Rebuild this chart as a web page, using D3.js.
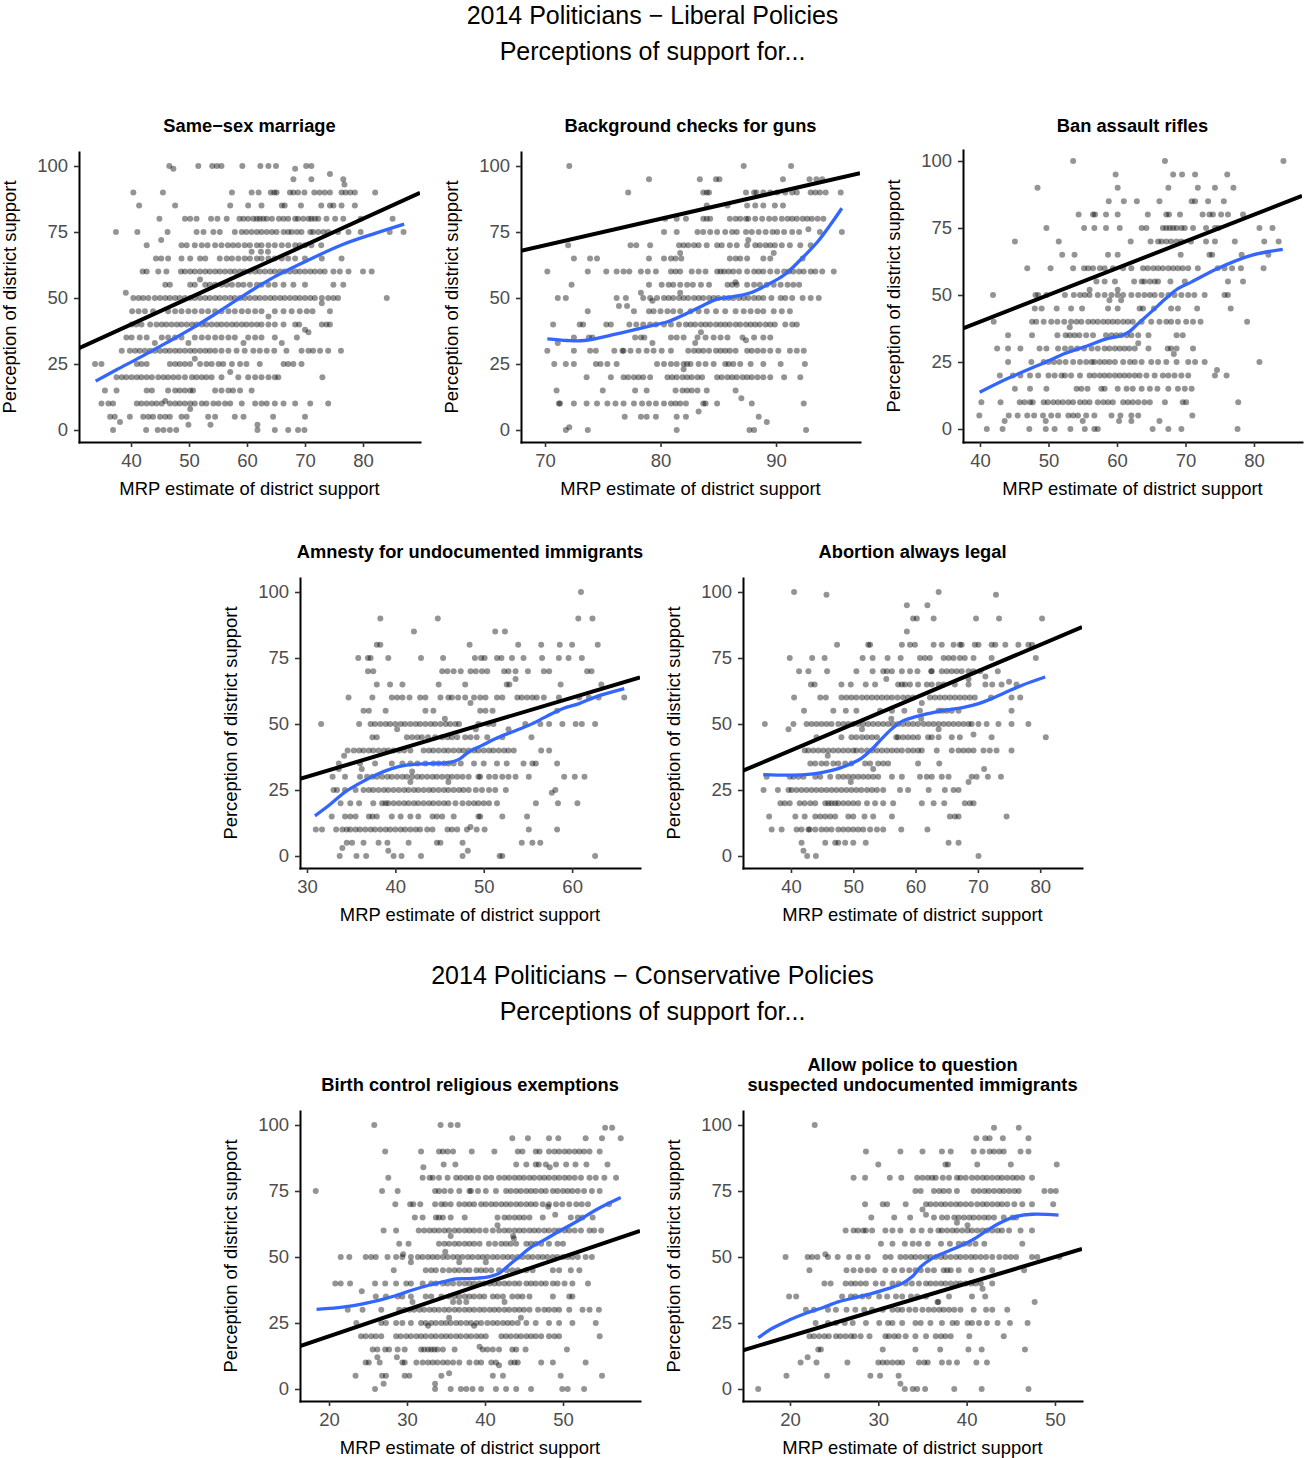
<!DOCTYPE html>
<html><head><meta charset="utf-8">
<script src="https://cdn.jsdelivr.net/npm/d3@7"></script>
<style>
body{margin:0;background:#fff}
svg{display:block}
text{font-family:"Liberation Sans",Arial,Helvetica,sans-serif}
</style>
</head><body>
<svg id="chart" width="1305" height="1458"></svg>
<script>
// ---------------- DATA ----------------
// Each points array: [perceived support level, [MRP estimates of districts at that level]]
const yTicks = [0, 25, 50, 75, 100];

const ssmXTicks = [40, 50, 60, 70, 80];
const ssmPoints = [
[100,[46.6,54.0,54.8,55.6,51.6,59.2,62.3,63.7,65.0,70.2,71.1]],
[99,[47.3,68.3]],[97,[74.3]],[95,[68.0,71.1,76.6]],[93,[76.8]],
[90,[40.4,45.5,57.4,60.8,62.0,64.1,64.7,65.1,67.4,68.0,68.8,69.9,71.6,72.5,73.4,74.3,76.3,77.0,77.8,78.6,82.1]],
[85,[41.4,47.6,57.1,60.2,62.5,66.0,66.5,69.3,72.8,74.3,74.9,76.3,78.6]],
[80,[44.9,49.3,50.2,51.3,53.8,54.9,56.5,58.7,59.4,60.2,61.1,61.7,62.2,62.8,63.4,64.3,65.5,66.3,67.1,68.3,68.8,69.7,70.6,71.1,71.7,72.3,73.7,75.2,76.6,79.6,85.1]],
[75,[37.4,41.1,46.3,51.3,52.5,54.2,55.3,57.9,59.1,59.9,60.8,61.7,62.5,63.4,64.3,65.1,66.3,67.1,67.7,68.6,69.4,70.9,71.4,72.3,73.2,74.0,75.7,77.5,79.6,84.6,87.0]],
[72,[45.2]],
[70,[42.7,48.7,49.6,51.0,52.2,53.2,54.5,55.6,56.7,57.6,58.5,59.6,60.5,61.7,62.5,63.7,64.8,66.0,67.1,68.3,69.1,70.0,71.1,72.8]],
[67.5,[60.8,62.4,63.6]],
[65,[44.3,45.2,46.4,48.7,50.2,51.9,52.8,55.3,56.5,57.4,58.5,59.6,60.5,61.7,62.5,63.7,64.8,66.0,67.1,68.3,70.0,72.9,76.3]],
[60,[42.0,42.7,44.7,46.1,48.6,49.3,50.2,51.0,51.9,52.8,53.6,54.5,55.3,56.2,57.1,57.9,58.8,59.6,60.5,61.4,62.2,63.1,64.0,64.8,65.7,66.5,67.4,68.3,69.1,70.0,70.9,71.7,72.6,73.4,74.9,76.0,77.5,80.0,81.5]],
[57,[51.9]],
[55,[45.9,46.7,50.2,51.0,52.8,53.6,54.5,55.6,56.5,57.4,58.5,59.4,60.5,61.7,62.5,63.7,64.8,66.3,68.0,70.0,74.9,76.6]],
[52,[39.1]],
[50,[40.4,41.3,42.1,43.0,44.1,45.0,45.9,46.7,47.6,48.4,49.3,50.2,51.0,51.9,52.8,53.6,54.5,55.3,56.2,57.1,57.9,58.8,59.6,60.5,61.4,62.2,63.1,64.0,64.8,65.7,66.5,67.4,68.3,69.1,70.0,70.9,71.7,72.9,74.0,74.9,75.7,84.1]],
[48,[72.9]],
[45,[40.2,41.3,42.4,43.8,46.4,47.6,48.7,49.9,51.0,52.2,53.3,54.5,55.6,56.8,57.9,59.1,60.2,61.4,62.5,64.8,66.3,67.7,69.1,70.3,71.3,74.3]],
[43,[63.7]],
[40,[40.1,40.9,41.8,43.3,44.4,45.3,46.1,47.0,47.9,48.7,49.6,50.5,51.3,52.2,53.0,53.9,54.8,55.6,56.5,57.4,58.2,59.1,59.9,60.8,61.7,62.5,63.7,64.8,66.3,68.3,69.0,72.9,73.7,74.3]],
[38,[70.0]],[37,[70.6]],
[35,[39.2,40.1,41.5,42.7,45.3,46.4,47.6,48.7,51.0,52.2,53.3,54.5,55.6,56.8,57.9,60.2,61.4,62.5,64.8,68.6]],
[33,[44.1,49.9,59.4,66.0]],
[30,[38.4,39.8,40.7,41.5,42.4,43.3,44.1,45.0,45.9,46.7,47.6,48.4,49.3,50.2,51.0,51.9,52.8,53.6,54.5,55.6,56.8,58.2,59.6,61.1,62.2,63.4,64.7,66.8,69.4,70.6,71.4,72.6,74.0,76.2]],
[27,[51.0]],
[25,[33.8,34.9,41.0,41.8,42.7,46.7,47.6,48.4,49.3,50.2,51.9,53.0,53.9,55.1,55.9,57.4,58.8,59.9,62.2,66.3,67.1,68.0,69.4]],
[22,[57.1]],
[20,[37.5,38.4,39.2,40.1,41.0,41.8,42.7,43.6,44.7,45.6,46.4,47.3,48.2,49.3,50.5,51.3,52.2,53.0,53.9,55.6,58.5,60.2,61.4,62.5,63.7,64.8,65.4,73.0]],
[15,[35.5,37.5,42.7,43.6,46.4,47.6,48.4,49.3,50.2,50.7,54.5,55.6,56.8,57.6,58.8,60.8]],
[11,[45.9]],
[10,[34.9,36.1,36.9,41.0,41.8,42.7,43.6,44.4,45.3,46.7,47.6,48.4,49.3,50.2,51.0,52.2,53.0,54.2,55.1,56.2,57.1,59.1,61.4,62.5,63.4,64.8,66.3,68.3,70.9,74.0]],
[8,[50.2]],
[5,[36.4,37.2,39.8,42.1,43.0,43.8,45.0,45.9,46.7,48.7,49.6,53.3,54.5,57.9,59.4,64.5,70.0]],
[3,[38.1]],[2,[49.9,53.7,61.8]],
[0,[36.9,42.6,44.6,45.6,46.7,47.8,61.8,64.8,67.1,68.8,69.9]]
];
const ssmSmooth = [[33.9,18.5],[37.5,22.8],[41.8,27.8],[46.0,32.9],[50.5,38.5],[55.0,44.6],[59.1,50.5],[64.8,58.1],[70.6,64.4],[76.3,70.1],[82.1,74.5],[87.1,78.0]];

const gunXTicks = [70, 80, 90];
const gunPoints = [
[100,[72.1,87.2,91.3]],
[95,[79.0,83.4,84.8,85.1,90.6,92.9,93.5,94.0]],
[90,[77.2,83.7,84.0,84.2,87.4,88.1,88.3,88.9,89.5,90.1,90.8,91.4,91.8,93.0,93.4,93.8,94.3,95.6]],
[85,[84.0,85.8,87.5,88.2,88.9,89.9,90.6]],
[80,[80.4,81.4,82.2,83.7,84.0,84.3,86.0,86.5,86.9,87.4,87.6,88.2,88.8,89.4,89.9,90.5,91.0,91.4,91.8,92.3,92.7,93.1,93.6,94.1]],
[76,[92.8]],
[75,[80.3,81.4,83.2,83.7,84.3,84.9,85.6,86.2,86.6,87.4,87.9,88.5,89.1,89.7,90.1,90.7,91.4,92.0,93.8,95.7]],
[72,[87.6]],
[70,[72.0,77.4,77.9,79.1,81.6,82.0,82.4,82.9,83.3,84.0,84.9,85.3,86.0,86.6,87.5,88.2,88.6,89.1,89.5,89.9,90.5,91.2,92.1,93.0]],
[67,[81.7,89.8]],
[65,[72.5,73.9,74.5,79.0,80.3,80.9,81.3,81.8,86.0,86.5,86.9,87.5,88.9,89.5,92.3]],
[60,[70.2,73.7,75.3,76.2,76.8,77.3,78.3,78.9,79.6,80.9,81.3,81.7,82.7,83.3,83.9,84.9,85.2,85.5,85.9,86.3,86.8,87.5,88.1,88.5,88.9,89.5,90.1,90.7,91.1,91.5,92.0,92.4,93.0,93.4,94.0,95.0]],
[56,[86.5]],
[55,[72.3,79.0,80.1,80.7,81.1,81.7,82.3,82.8,83.5,84.2,85.8,86.2,86.6,87.5,88.1,88.6,89.2,89.8,90.4,91.0,91.5,92.0]],
[52,[78.3,81.7]],
[50,[71.1,71.8,76.2,77.0,78.5,79.1,79.7,80.3,80.7,81.1,81.6,82.0,82.4,82.9,83.3,83.7,84.2,84.6,85.0,85.5,85.9,86.3,86.8,87.2,87.6,88.1,88.5,88.9,89.6,90.4,90.8,91.4,92.3,93.0,93.7]],
[49,[79.3]],[47,[76.4,77.1]],
[45,[73.7,77.7,79.0,79.4,80.0,80.6,81.1,81.7,82.6,83.3,84.0,84.8,85.6,86.5,87.2,87.8,88.4,88.9,89.8,90.5,91.2]],
[40,[70.7,73.0,73.3,75.3,75.7,77.3,77.9,78.5,79.1,79.6,80.3,80.9,81.6,82.2,82.6,83.0,83.5,83.9,84.3,84.8,85.2,85.6,86.0,86.5,86.9,87.4,87.8,88.2,88.6,89.1,89.5,89.9,90.8,91.4,91.8]],
[37,[83.5]],
[35,[72.5,73.8,74.1,77.8,78.3,78.6,80.9,81.4,82.0,83.2,83.9,84.6,85.2,85.8,87.1,88.1,88.9,89.5]],
[34,[87.4]],[33,[71.1,79.3,83.0]],
[30,[70.2,72.5,73.9,74.4,76.0,76.7,76.8,77.4,78.1,78.8,79.4,80.1,80.9,82.4,82.9,83.3,83.7,84.2,84.8,85.2,85.6,86.0,86.5,87.5,87.9,88.4,88.9,89.5,90.2,91.2,91.8,92.4]],
[25,[70.8,71.8,72.5,74.4,74.8,75.4,76.2,79.7,80.3,80.9,81.4,82.0,82.3,82.6,83.3,83.9,84.6,85.6,85.9,86.3,86.9,87.8,88.9,90.4,92.5]],
[23,[82.0]],
[20,[73.6,75.7,76.8,77.2,77.7,78.1,78.5,79.1,80.6,81.0,81.4,81.9,82.3,82.7,83.2,83.6,84.9,85.3,85.8,86.2,86.6,87.1,87.5,87.9,88.4,88.9,89.5,90.7,92.1]],
[15,[71.0,75.0,77.8,78.8,81.3,81.9,82.3,82.7,83.2,84.0,86.5]],
[12,[87.0]],
[10,[71.2,71.3,72.5,73.6,74.5,75.4,76.1,76.8,77.7,78.4,79.0,79.6,80.3,80.9,81.3,81.7,82.2,83.7,83.9,84.9,87.9,92.4]],
[7,[83.3]],
[5,[76.9,78.3,78.8,79.6,81.4,82.2,88.5]],
[3,[89.2]],[1,[72.1]],
[0,[71.8,73.7,81.4,87.7,88.1,92.6]]
];
const gunSmooth = [[70.2,34.5],[71.9,33.9],[73.4,33.9],[76.2,36.4],[79.1,39.4],[80.6,41.0],[82.0,43.6],[83.5,46.8],[84.9,49.6],[86.3,50.5],[87.8,52.0],[89.2,54.9],[90.7,58.7],[92.1,64.4],[93.6,71.3],[94.7,77.7],[95.7,84.0]];

const rifXTicks = [40, 50, 60, 70, 80];
const rifPoints = [
[100,[53.6,67.0,84.3]],
[95,[59.8,68.2,69.5,71.4,76.1]],
[90,[48.4,60.1,67.5,71.8,74.3,77.0]],
[85,[58.8,61.0,62.9,66.2,70.9,71.4,73.3,75.6]],
[80,[54.4,56.5,56.8,58.4,60.1,64.5,67.2,67.6,69.2,72.5,73.5,74.0,75.2,76.2,78.4]],
[75,[49.7,55.2,56.7,58.4,60.4,63.6,64.3,66.7,67.2,67.7,68.2,68.7,69.4,69.9,71.1,73.0,74.3,74.8,80.8,82.7]],
[70,[45.1,51.5,62.0,64.9,66.0,66.5,67.2,67.9,68.7,69.4,70.8,73.0,74.3,77.2,81.5,83.6]],
[65,[52.0,53.8,58.7,60.1,69.3,73.5,73.9,78.2,82.1]],
[60,[46.9,50.3,53.6,55.2,55.8,56.5,57.5,58.2,59.4,60.9,62.1,63.8,64.5,65.3,66.0,66.7,67.5,68.2,68.9,69.6,70.4,71.8,74.7,75.7,76.8,78.1,81.4]],
[55,[57.0,58.2,59.7,62.5,63.6,64.0,64.8,65.5,66.0,67.8,69.9,76.2,78.4]],
[52,[56.0,60.1]],
[50,[41.9,48.1,48.5,49.7,52.4,53.7,54.6,55.3,56.0,57.2,58.2,59.2,60.1,60.9,62.1,63.1,64.0,64.8,65.5,66.5,67.5,68.4,69.4,70.4,71.3,72.8,75.7,76.2]],
[48,[58.9,60.6]],
[45,[48.0,49.0,51.2,53.3,54.9,58.7,60.1,63.3,63.8,65.4,67.9,68.9,71.7,76.6]],
[40,[42.0,47.6,48.2,49.3,50.4,51.3,52.3,53.3,54.1,54.8,55.8,56.5,57.2,58.0,58.7,59.4,60.1,60.9,61.6,62.3,63.6,65.0,66.2,67.2,67.9,68.9,70.1,71.1,72.2,79.0]],
[38,[53.1]],
[35,[44.1,47.6,51.3,52.5,53.1,53.8,54.5,55.5,56.5,58.4,59.2,59.9,60.6,61.4,62.1,63.1,64.6,68.7,69.6]],
[32,[63.1]],
[30,[42.5,44.1,45.9,48.7,49.7,51.4,52.4,53.3,54.2,55.2,56.3,57.2,58.2,58.9,59.7,60.4,61.1,61.8,62.6,64.6,67.4,67.9,68.7,71.1]],
[28,[68.3]],
[25,[44.1,47.5,49.3,50.0,50.8,51.6,52.5,53.6,54.6,55.5,56.3,56.7,57.5,58.2,58.9,59.7,60.9,61.9,62.6,63.6,65.0,66.0,67.2,68.7,70.4,71.4,72.8,80.8]],
[22,[74.6]],
[20,[42.9,44.8,45.9,47.3,48.5,50.0,50.9,51.9,52.4,53.3,54.6,56.0,56.7,57.5,58.2,58.9,59.7,60.4,61.1,61.8,62.6,63.3,64.3,65.5,66.7,67.5,68.4,69.4,70.4,74.3,76.0]],
[15,[45.1,47.3,49.7,54.1,54.8,55.7,57.7,58.2,60.1,61.4,62.3,63.6,64.8,65.9,67.5,68.9,69.9,70.9]],
[10,[40.2,43.0,45.8,46.5,47.3,47.7,49.3,49.9,50.7,51.4,52.1,52.9,53.6,54.6,55.3,56.0,57.2,58.0,58.7,59.4,60.9,61.6,62.3,63.1,64.0,64.8,67.0,69.6,70.1,77.7]],
[5,[39.9,44.2,45.5,46.9,47.9,49.2,50.4,51.4,52.9,53.6,54.3,55.5,56.7,59.2,60.5,62.1,63.1,71.0]],
[3,[43.6,49.6,55.0,60.3,62.1,66.2]],
[0,[41.0,43.3,47.2,49.6,50.9,53.2,55.3,56.7,57.2,65.2,67.5,69.4,77.6]]
];
const rifSmooth = [[39.95,13.7],[44.1,18.9],[49.7,25.1],[52.4,28.2],[55.3,30.7],[58.7,33.8],[60.6,34.8],[61.8,36.3],[63.1,39.4],[65.0,43.7],[67.0,48.4],[68.9,52.4],[70.9,54.9],[74.7,59.9],[79.6,64.8],[84.2,67.0]];

const amnXTicks = [30, 40, 50, 60];
const amnPoints = [
[100,[61.0]],
[90,[38.3,44.8,60.7,62.3]],
[85,[42.1,51.3,52.4]],
[80,[37.9,38.3,48.4,53.9,56.5,58.6,60.0,62.9]],
[75,[35.8,36.9,37.2,39.2,42.9,45.4,49.0,49.7,50.1,51.5,52.0,53.2,54.5,56.6,58.5,59.6,61.1]],
[70,[36.9,37.5,45.3,45.9,46.6,47.4,48.5,49.1,49.8,50.4,52.3,52.8,53.6,55.0,56.8,57.4,61.7,62.2]],
[67,[53.6]],
[65,[37.9,39.4,40.8,44.9,47.9,52.6,52.9,58.7,63.3]],
[60,[34.7,37.4,39.6,40.2,40.8,41.6,42.8,43.4,45.1,46.0,46.4,47.1,47.9,48.9,49.6,50.2,51.5,52.1,53.8,54.3,54.9,55.5,56.0,56.8,58.5,60.8,61.9,63.0,65.9]],
[58,[48.5]],
[55,[36.4,37.0,38.9,43.4,44.3,49.6,50.2,51.0,58.3]],
[52,[45.6]],
[50,[31.6,35.9,37.2,37.7,38.3,38.9,39.4,40.0,40.6,41.1,41.7,42.3,42.8,43.4,44.0,44.5,45.1,45.7,46.2,46.8,47.2,49.4,50.5,51.1,54.7,56.4,57.4,58.9,60.4,61.1,62.6]],
[48,[40.2,49.1,52.8]],
[45,[37.4,37.9,41.3,41.9,42.5,43.0,43.7,44.5,45.3,45.9,46.4,47.0,47.9,48.5,49.2,50.4,52.1,55.4]],
[40,[34.6,35.3,35.9,36.4,37.0,37.5,38.1,38.7,39.2,39.8,40.4,41.0,41.7,43.2,43.8,44.3,44.9,45.5,46.0,46.6,47.2,47.7,48.3,48.9,49.4,50.0,50.6,51.1,51.7,52.3,52.8,53.4,56.5,57.4]],
[38,[34.2]],
[35,[33.6,36.0,37.7,39.6,40.8,41.7,42.5,43.4,44.3,44.9,45.5,46.0,46.6,47.4,48.9,50.0,51.5,52.6,54.5,55.5,55.9,58.3]],
[33,[33.6,36.2]],[32,[41.9]],
[30,[32.9,34.3,36.0,36.8,37.4,37.9,38.5,39.1,39.6,40.2,40.8,41.3,41.9,42.5,43.0,43.6,44.2,44.7,45.3,45.9,46.4,47.0,47.6,48.3,49.4,49.6,50.6,51.3,52.1,52.8,53.6,55.1,59.1,60.3,61.4]],
[28,[41.7,46.0]],
[25,[33.0,33.4,34.3,35.5,36.4,37.0,37.5,38.1,38.7,39.2,39.8,40.4,41.0,41.5,42.1,42.6,43.2,43.8,44.3,44.9,45.5,46.0,46.6,47.2,47.7,48.3,49.1,49.8,50.6,51.3,52.5,58.1]],
[24,[57.7]],
[20,[33.8,34.9,35.9,37.5,38.5,38.9,39.2,39.8,40.4,41.0,41.5,42.1,42.6,43.2,43.8,44.3,44.9,45.5,46.0,46.8,47.6,48.3,48.9,49.4,50.0,50.6,51.5,55.9,58.4,60.6]],
[15,[32.8,34.3,34.9,35.5,37.0,37.4,37.9,39.6,40.6,41.7,42.6,44.2,44.7,45.3,46.6,49.4,49.6,52.1,54.9]],
[11,[48.5]],
[10,[31.0,31.7,33.3,34.0,34.5,34.9,35.5,36.0,36.6,37.2,37.7,38.3,38.9,39.4,40.0,40.6,41.1,41.7,42.3,42.8,43.6,44.2,45.9,46.4,47.0,48.1,49.2,50.1,55.1,58.3]],
[5,[34.5,35.1,36.4,38.1,39.1,41.5,44.7,45.1,47.6,54.3,55.5,56.4]],
[3,[34.0]],[2,[39.2,48.2]],
[0,[33.7,35.6,36.7,39.8,40.7,42.9,47.6,51.8,52.1,62.6]]
];
const amnSmooth = [[30.9,15.2],[32.5,19.2],[34.3,24.2],[36.2,28.0],[37.7,30.6],[39.6,33.1],[41.1,34.3],[43.8,35.0],[46.0,35.4],[47.2,36.6],[48.3,39.4],[49.8,41.9],[51.3,44.4],[53.2,47.0],[55.1,49.5],[57.0,52.7],[58.9,55.8],[60.8,57.7],[62.6,60.2],[65.9,63.4]];

const aboXTicks = [40, 50, 60, 70, 80];
const aboPoints = [
[100,[40.5,63.7]],[99,[45.7,72.9]],[95,[58.6,61.9]],
[90,[59.6,60.2,62.9,69.7,73.4,80.3]],
[85,[58.6]],
[80,[47.4,52.4,52.7,57.8,59.1,59.9,62.9,64.2,66.1,67.1,67.4,69.5,70.1,72.2,72.8,74.4,76.5,78.1,78.7]],
[75,[39.8,43.4,45.4,51.5,53.1,55.5,57.6,60.7,61.5,62.3,64.5,65.3,66.1,67.1,67.9,69.3,72.2,79.3]],
[70,[41.3,42.8,45.8,50.5,53.1,54.8,55.4,56.2,57.8,59.1,60.3,62.5,62.6,64.2,65.0,65.8,66.6,67.4,68.5,69.3,70.4,73.2]],
[68,[71.2]],[67,[55.3,68.5]],[66,[75.0]],
[65,[43.2,43.8,48.1,49.6,52.0,53.5,57.2,57.8,58.3,59.1,60.4,61.8,62.6,63.7,64.5,66.3,68.5,71.2,72.3,73.8,76.2]],
[60,[40.5,44.7,45.6,48.1,48.9,49.7,50.5,51.4,52.2,53.0,53.8,54.6,55.4,56.2,57.1,58.0,58.8,59.6,62.3,63.1,63.9,64.7,65.5,66.3,67.1,67.9,68.7,69.5,72.1,75.4,76.8]],
[58,[61.0]],
[55,[42.1,46.8,48.8,50.5,54.3,56.2,58.2,60.7,63.7,64.3,65.0,65.8,66.9,75.4]],
[52,[56.1,60.9]],
[50,[35.8,40.4,42.5,43.3,44.1,44.9,45.7,46.5,47.6,48.4,49.2,50.0,50.8,51.6,52.4,53.2,54.0,54.8,55.6,56.4,57.2,58.0,58.8,59.6,60.4,61.3,62.1,62.9,63.7,64.5,65.3,66.1,66.9,67.7,68.5,69.0,70.1,71.4,73.3,75.4,78.1]],
[48,[39.6,51.4,63.7]],[46,[69.3]],
[45,[44.1,48.1,49.7,50.5,51.4,52.2,53.0,53.8,56.9,57.2,58.0,58.8,59.6,60.4,62.0,62.6,63.7,65.8,67.1,72.2,80.9]],
[40,[42.2,42.8,43.6,44.4,45.2,46.0,46.8,47.6,48.4,49.2,50.0,50.5,51.3,52.2,53.0,53.8,54.6,55.4,56.2,57.0,57.8,58.8,59.6,60.4,61.0,63.4,65.8,66.9,67.7,68.5,69.3,70.9,71.9,73.0,75.4]],
[38,[45.9]],
[35,[43.1,43.9,44.9,45.7,46.8,47.6,48.7,49.7,51.9,52.7,54.0,54.8,55.6,60.4,63.8]],
[33,[53.2,71.0]],
[30,[36.1,39.8,40.4,41.2,42.0,43.9,44.7,46.3,47.6,48.4,49.2,50.0,50.8,51.6,52.4,53.2,54.0,56.2,57.8,60.7,61.8,62.6,64.2,65.3,69.0,69.8,71.6,73.7]],
[28,[49.6,68.5]],
[25,[35.6,37.9,39.6,40.1,40.9,41.7,42.5,43.3,44.1,44.9,45.7,46.5,47.3,48.1,48.9,49.7,50.5,51.3,52.2,53.0,53.8,54.8,57.5,58.8,62.1,64.7,66.1,66.9]],
[20,[38.3,39.0,39.8,41.4,42.2,43.1,43.9,45.5,46.0,46.5,47.1,47.6,48.4,49.2,50.0,50.8,52.2,53.5,54.8,56.4,61.0,62.9,64.6,67.9,68.7,69.3]],
[15,[36.5,40.7,42.2,43.9,44.7,45.5,46.3,47.1,49.2,50.0,51.8,53.2,56.2,65.5,66.3,66.9,74.6]],
[10,[36.9,38.5,40.9,41.7,42.8,43.0,43.9,44.9,45.7,46.5,47.6,48.4,49.2,50.0,50.8,51.6,52.7,53.8,54.8,57.7,61.9]],
[5,[41.7,45.5,47.1,47.6,48.7,50.0,52.0,65.3,66.9]],
[2,[42.0]],
[0,[42.6,44.0,70.1]]
];
const aboSmooth = [[35.55,30.8],[39.6,30.6],[42.25,30.8],[44.9,31.6],[47.6,33.1],[49.7,35.0],[51.35,37.1],[52.95,40.4],[54.56,44.4],[56.2,48.2],[57.8,51.0],[59.9,52.7],[63.7,54.8],[67.9,56.4],[70.1,57.7],[72.2,59.6],[74.4,61.9],[77.0,64.6],[80.8,67.8]];

const bcXTicks = [20, 30, 40, 50];
const bcPoints = [
[100,[25.8,34.3,35.6,36.5]],[99,[55.4,56.3]],
[95,[43.5,45.5,48.2,49.4,52.9,55.0,57.4]],
[90,[27.2,31.8,34.1,34.6,35.2,35.9,38.3,41.2,44.2,44.8,46.5,47.0,48.2,48.9,49.5,50.2,50.8,51.5,52.1,52.7,53.4,54.7]],
[85,[34.7,36.2,44.0,45.3,46.5,46.9,47.8,49.1,50.4,51.6,53.0,55.7]],
[84,[32.1,48.3]],
[80,[27.6,32.0,32.9,33.3,34.1,35.2,36.3,36.9,37.6,38.2,39.1,40.1,40.8,41.8,42.5,43.1,43.8,44.4,45.0,45.7,46.3,47.0,47.6,48.2,48.9,49.5,50.2,50.8,51.5,52.3,53.4,54.2,55.3,56.8]],
[75,[18.3,26.8,28.8,33.6,34.1,34.8,35.6,36.7,38.0,38.2,39.1,40.1,41.4,42.7,43.3,44.0,44.6,45.3,45.9,46.5,47.2,47.8,48.7,49.3,50.0,50.6,51.2,51.9,52.7,53.7,54.7]],
[70,[28.5,30.4,30.8,31.7,33.6,34.4,34.9,35.6,36.7,37.4,38.0,38.6,39.5,40.1,40.8,41.4,42.1,42.7,43.3,44.0,44.6,45.3,45.9,46.5,47.4,48.2,49.1,49.9,50.8,51.7,52.4,53.2,55.9]],
[69,[48.1]],[66,[49.0]],
[65,[31.0,32.0,33.7,34.1,34.6,35.6,37.4,41.6,42.5,43.1,43.8,44.4,45.0,45.7,47.4,51.0,51.9,52.5,53.8]],
[62,[41.6]],
[60,[27.0,28.6,31.5,32.2,32.9,33.5,34.1,34.8,35.4,36.1,36.7,37.4,38.0,38.6,39.3,40.1,41.0,41.8,42.5,43.1,43.8,44.4,45.0,45.7,46.3,46.9,47.6,48.2,48.9,49.5,50.2,50.8,51.5,52.3,53.4,54.0,54.9]],
[58,[35.6,43.6]],[57,[43.7]],
[55,[29.0,30.2,34.1,34.8,35.4,36.1,36.7,37.4,38.0,38.6,39.3,40.5,41.3,42.1,42.7,43.3,44.0,45.3,45.9,46.5,47.2,48.2,49.3,50.0]],
[52,[34.9]],[51,[29.5]],
[50,[21.5,22.6,24.7,25.4,26.0,27.5,28.6,29.4,30.5,31.4,32.0,32.7,33.3,33.9,34.6,35.2,35.9,36.5,37.1,37.8,38.4,39.1,39.7,40.3,41.0,41.6,42.3,42.9,43.5,44.2,44.8,45.5,46.1,46.8,47.4,48.0,48.7,49.3,50.0,50.6,51.2,51.9,52.9,53.7]],
[48,[30.5,36.7,40.1]],
[45,[28.3,32.4,33.1,33.7,34.6,35.4,36.1,36.7,37.4,38.0,38.9,39.5,40.1,40.8,41.8,42.8,43.5,44.2,45.3,46.1,48.7,49.5,51.0,52.1]],
[40,[20.8,21.5,22.7,25.9,27.2,28.6,29.9,30.5,32.0,33.1,33.7,34.6,35.2,35.9,36.7,37.4,38.0,38.6,39.3,39.9,40.6,41.2,41.8,42.5,43.1,43.8,44.4,45.3,45.9,46.5,47.2,47.8,48.7,49.3,50.2,51.2,53.2]],
[37,[24.2]],
[35,[26.0,27.3,28.8,29.4,30.5,32.4,33.1,34.4,35.4,36.1,36.7,37.4,38.0,38.6,39.3,39.9,41.0,41.6,42.3,43.5,44.2,44.8,45.7,48.7,50.8,51.2]],
[33,[30.7,35.9,36.7,37.6,42.5]],
[30,[22.4,24.3,26.7,29.0,29.7,30.3,30.9,31.6,32.2,32.9,33.5,34.1,34.8,35.4,36.1,36.7,37.4,38.0,38.6,39.3,39.9,40.6,41.2,41.8,42.5,43.1,43.8,44.4,45.0,45.7,46.8,47.6,48.2,48.9,49.5,50.8,52.5,53.4,54.6]],
[27,[35.4,44.6]],
[25,[23.5,26.7,27.3,28.6,29.4,30.5,31.8,32.4,33.1,33.7,34.4,35.0,35.6,36.3,36.9,37.6,38.2,38.9,39.5,40.3,41.0,41.6,42.3,42.9,43.5,44.2,45.3,46.5,48.2,49.5,51.2,54.2]],
[24,[32.7,38.6]],
[20,[24.1,24.7,25.4,26.0,26.7,28.6,29.2,29.9,30.5,31.2,31.8,32.4,33.1,33.7,34.4,35.0,35.6,36.3,36.9,37.6,38.2,38.9,39.5,40.1,42.1,42.7,43.3,44.0,44.6,45.3,45.9,46.5,47.2,48.2,48.9,49.5,54.7]],
[16,[39.3]],
[15,[25.6,26.2,27.2,27.7,28.8,29.7,31.8,32.2,32.7,33.1,33.5,33.9,34.6,36.1,39.7,40.3,41.0,41.8,43.5,44.0,45.2,50.5]],
[12,[26.2,28.7]],
[10,[24.7,25.1,26.5,29.4,29.7,31.2,32.0,32.7,33.3,33.9,34.6,35.2,35.9,36.7,38.0,38.9,39.5,40.8,41.4,43.3,43.8,44.2,47.2,48.7,52.9]],
[9,[41.8]],[6,[35.4]],
[5,[23.4,26.8,27.3,29.7,30.3,34.4,41.0,42.3,49.7,55.0]],
[2,[27.0,33.6]],
[0,[25.9,33.6,35.6,36.9,37.6,38.4,39.5,41.4,42.7,44.0,45.9,49.9,50.6,52.7]]
];
const bcSmooth = [[18.4,30.2],[22.2,31.2],[26.5,33.7],[28.6,35.4],[30.7,37.5],[32.9,39.4],[35.0,40.9],[36.3,41.7],[38.4,41.9],[40.6,42.6],[41.8,43.8],[43.1,47.0],[44.4,50.1],[45.7,53.3],[47.8,56.8],[50.0,60.6],[52.1,64.0],[54.2,67.8],[57.4,72.5]];

const polXTicks = [20, 30, 40, 50];
const polPoints = [
[100,[22.8]],[99,[43.1,45.9]],
[95,[41.1,42.1,42.6,44.1,47.0]],
[90,[28.6,32.5,35.0,37.2,38.2,40.8,41.8,42.6,43.1,43.7,44.2,46.1,47.0]],
[85,[30.0,37.6,37.9,41.2,45.0,50.2]],
[80,[27.2,28.5,31.3,32.6,34.4,35.0,35.6,36.1,36.5,37.3,38.0,38.9,39.3,39.9,40.6,41.2,41.8,42.3,42.9,43.5,44.0,44.6,45.2,45.7,46.3,47.4]],
[75,[34.2,34.8,36.3,36.9,37.4,38.0,38.9,40.8,41.4,42.0,42.5,43.1,43.7,44.2,44.8,45.4,45.9,48.8,49.5,50.1]],
[70,[28.5,30.5,31.0,33.1,35.4,35.9,36.5,37.1,37.6,38.2,38.8,39.3,39.9,40.5,41.2,41.8,42.3,42.9,43.5,44.0,44.6,45.4,46.3,47.4,49.8]],
[68,[35.0]],[66,[35.4]],
[65,[29.2,31.8,33.6,36.3,37.2,37.8,38.6,39.1,39.7,40.3,40.8,41.4,42.0,42.5,43.1,44.2,45.2,45.6]],
[63,[38.9]],[62,[40.1]],
[60,[26.3,27.2,27.7,28.3,28.6,29.3,30.8,31.6,32.5,33.9,34.9,35.9,36.8,37.2,37.8,38.4,38.9,39.5,40.1,40.6,41.2,41.8,42.3,42.9,43.5,44.0,44.8,46.1,47.4]],
[55,[30.3,31.6,33.0,33.9,34.6,35.6,37.1,38.1,39.1,39.7,40.3,41.0,42.0,46.3]],
[51,[24.0]],
[50,[19.5,22.0,22.5,23.1,24.3,25.4,26.7,27.7,28.8,30.8,31.4,32.5,33.1,33.7,34.2,34.8,35.4,35.9,36.5,37.1,37.6,38.2,38.8,39.3,39.9,40.5,41.0,41.6,42.2,42.9,43.7,44.4,45.0,45.6,47.4,48.0,50.5]],
[45,[22.2,26.4,27.2,28.0,28.8,29.5,30.8,31.8,32.7,33.5,34.2,34.8,35.6,36.3,37.4,37.8,38.2,39.1,40.5,41.8,42.9,46.5]],
[40,[23.9,24.6,26.3,26.9,27.4,28.0,28.6,29.7,30.5,31.6,32.3,33.1,33.8,34.6,35.4,35.9,36.5,37.1,37.6,38.2,38.8,39.3,39.9,40.5,41.0,41.6,42.9]],
[38,[41.8]],
[35,[19.9,20.7,25.9,26.9,27.4,28.2,28.9,30.1,31.0,32.0,32.7,33.7,34.4,35.4,38.0,40.6,42.1]],
[33,[36.7,36.8,47.7]],
[30,[21.8,22.7,24.3,25.2,26.4,27.4,28.4,29.3,30.5,31.6,32.2,32.7,33.5,34.2,35.0,35.7,36.3,36.9,37.4,38.0,38.6,39.3,40.8,42.2,42.9,44.6]],
[25,[22.9,24.3,25.2,26.2,27.1,28.6,30.1,31.1,31.6,32.7,34.2,34.8,35.9,37.2,38.4,38.9,40.1,40.6,41.4,42.3,43.5,44.9,46.9]],
[20,[22.2,22.7,23.3,23.9,24.4,25.2,25.7,26.3,26.9,27.3,28.0,29.0,30.8,31.2,31.8,32.3,33.1,34.2,35.4,36.5,37.1,37.6,38.2,40.3,44.2]],
[15,[23.2,23.5,30.5,34.2,37.0,40.2,41.7,46.6]],
[12,[22.0]],
[10,[21.2,23.0,26.5,30.0,30.5,31.0,31.6,32.2,32.7,34.6,35.2,35.6,37.2,38.0,38.9,41.1,42.3]],
[5,[19.6,24.2,29.1,30.2,32.3]],
[2,[32.5]],
[0,[16.4,33.0,33.9,34.4,35.3,38.6,41.7,47.0]]
];
const polSmooth = [[16.4,19.4],[18.0,23.0],[19.9,26.1],[21.8,28.7],[23.7,30.8],[25.55,33.1],[27.4,34.6],[29.3,36.2],[31.2,38.1],[32.7,40.0],[33.85,42.6],[34.8,46.3],[36.1,49.5],[37.6,51.8],[39.1,53.9],[40.6,56.4],[42.2,59.8],[43.7,62.8],[45.55,65.3],[47.4,66.2],[50.4,65.9]];

const panelTitles = [
  ["Same\u2212sex marriage"],
  ["Background checks for guns"],
  ["Ban assault rifles"],
  ["Amnesty for undocumented immigrants"],
  ["Abortion always legal"],
  ["Birth control religious exemptions"],
  ["Allow police to question", "suspected undocumented immigrants"]
];
const sectionTitles = [
  ["2014 Politicians \u2212 Liberal Policies", "Perceptions of support for..."],
  ["2014 Politicians \u2212 Conservative Policies", "Perceptions of support for..."]
];
const xAxisTitle = "MRP estimate of district support";
const yAxisTitle = "Perception of district support";

// ---------------- LAYOUT ----------------
const FONT = '"Liberation Sans", Arial, Helvetica, sans-serif';
const panels = [
  {pts: ssmPoints, smooth: ssmSmooth, xt: ssmXTicks, title: panelTitles[0], x0: 79,  x1: 420,  top: 152,  bottom: 442,  yZero: 430,  yHundred: 166,  xDomain: [31.03, 89.83], titleY: [132]},
  {pts: gunPoints, smooth: gunSmooth, xt: gunXTicks, title: panelTitles[1], x0: 521, x1: 860,  top: 152,  bottom: 442,  yZero: 430,  yHundred: 166,  xDomain: [67.92, 97.27], titleY: [132]},
  {pts: rifPoints, smooth: rifSmooth, xt: rifXTicks, title: panelTitles[2], x0: 963, x1: 1302, top: 150,  bottom: 442,  yZero: 429,  yHundred: 161,  xDomain: [37.52, 87.01], titleY: [132]},
  {pts: amnPoints, smooth: amnSmooth, xt: amnXTicks, title: panelTitles[3], x0: 300, x1: 640,  top: 578,  bottom: 868,  yZero: 856,  yHundred: 592,  xDomain: [29.21, 67.68], titleY: [558]},
  {pts: aboPoints, smooth: aboSmooth, xt: aboXTicks, title: panelTitles[4], x0: 743, x1: 1082, top: 578,  bottom: 868,  yZero: 856,  yHundred: 592,  xDomain: [32.30, 86.71], titleY: [558]},
  {pts: bcPoints,  smooth: bcSmooth,  xt: bcXTicks,  title: panelTitles[5], x0: 300, x1: 640,  top: 1111, bottom: 1401, yZero: 1389, yHundred: 1125, xDomain: [16.28, 59.87], titleY: [1091]},
  {pts: polPoints, smooth: polSmooth, xt: polXTicks, title: panelTitles[6], x0: 743, x1: 1082, top: 1111, bottom: 1401, yZero: 1389, yHundred: 1125, xDomain: [14.68, 53.06], titleY: [1071, 1091]}
];

const svg = d3.select("#chart");
svg.append("rect").attr("width", 1305).attr("height", 1458).attr("fill", "#fff");

// section titles
const secY = [[24, 60], [984, 1020]];
sectionTitles.forEach((lines, i) => {
  lines.forEach((t, j) => {
    svg.append("text").attr("x", 652.5).attr("y", secY[i][j])
      .attr("text-anchor", "middle").style("font-family", FONT)
      .style("font-size", "25px").attr("fill", "#000").text(t);
  });
});

panels.forEach((p, idx) => {
  const g = svg.append("g");
  const per = (p.yZero - p.yHundred) / 100;
  const yLo = (p.yZero - p.bottom) / per;
  const yHi = (p.yZero - p.top) / per;
  const x = d3.scaleLinear().domain(p.xDomain).range([p.x0, p.x1]);
  const y = d3.scaleLinear().domain([yLo, yHi]).range([p.bottom, p.top]);

  const clipId = "clip" + idx;
  svg.append("clipPath").attr("id", clipId).append("rect")
    .attr("x", p.x0).attr("y", p.top).attr("width", p.x1 - p.x0).attr("height", p.bottom - p.top);

  const plot = g.append("g").attr("clip-path", `url(#${clipId})`);
  const flat = p.pts.flatMap(([yv, xs]) => xs.map(xv => [xv, yv]));
  plot.selectAll("circle").data(flat).join("circle")
    .attr("cx", d => x(d[0])).attr("cy", d => y(d[1])).attr("r", 3)
    .attr("fill", "#000").attr("fill-opacity", 0.42);

  // loess smooth (blue)
  plot.append("path").datum(p.smooth)
    .attr("d", d3.line().x(d => x(d[0])).y(d => y(d[1])).curve(d3.curveCatmullRom.alpha(0.5)))
    .attr("fill", "none").attr("stroke", "#3366FF").attr("stroke-width", 3.3).attr("stroke-linecap", "butt");

  // 45-degree reference line (perception = estimate)
  plot.append("path").datum(p.xDomain.map(v => [v, v]))
    .attr("d", d3.line().x(d => x(d[0])).y(d => y(d[1])))
    .attr("fill", "none").attr("stroke", "#000").attr("stroke-width", 4);

  // axes
  const ax = g.append("g").attr("transform", `translate(0,${p.bottom})`)
    .call(d3.axisBottom(x).tickValues(p.xt).tickSize(5).tickSizeOuter(0).tickPadding(7));
  const ay = g.append("g").attr("transform", `translate(${p.x0},0)`)
    .call(d3.axisLeft(y).tickValues(yTicks).tickSize(5).tickSizeOuter(0).tickPadding(6));
  [ax, ay].forEach(a => {
    a.select(".domain").attr("stroke", "#000").attr("stroke-width", 2).attr("stroke-linecap", "square");
    a.selectAll(".tick line").attr("stroke", "#333").attr("stroke-width", 1.6);
    a.selectAll(".tick text").style("font-family", FONT).style("font-size", "18.5px").attr("fill", "#4d4d4d");
  });

  // axis titles
  g.append("text").attr("x", (p.x0 + p.x1) / 2).attr("y", p.bottom + 53)
    .attr("text-anchor", "middle").style("font-family", FONT).style("font-size", "18.4px")
    .attr("fill", "#000").text(xAxisTitle);
  g.append("text").attr("transform", `translate(${p.x0 - 63},${(p.top + p.bottom) / 2}) rotate(-90)`)
    .attr("text-anchor", "middle").style("font-family", FONT).style("font-size", "18.4px")
    .attr("fill", "#000").text(yAxisTitle);

  // panel title
  p.title.forEach((t, j) => {
    g.append("text").attr("x", (p.x0 + p.x1) / 2).attr("y", p.titleY[j])
      .attr("text-anchor", "middle").style("font-family", FONT).style("font-size", "18.3px")
      .style("font-weight", "bold").attr("fill", "#000").text(t);
  });
});
</script>
</body></html>
